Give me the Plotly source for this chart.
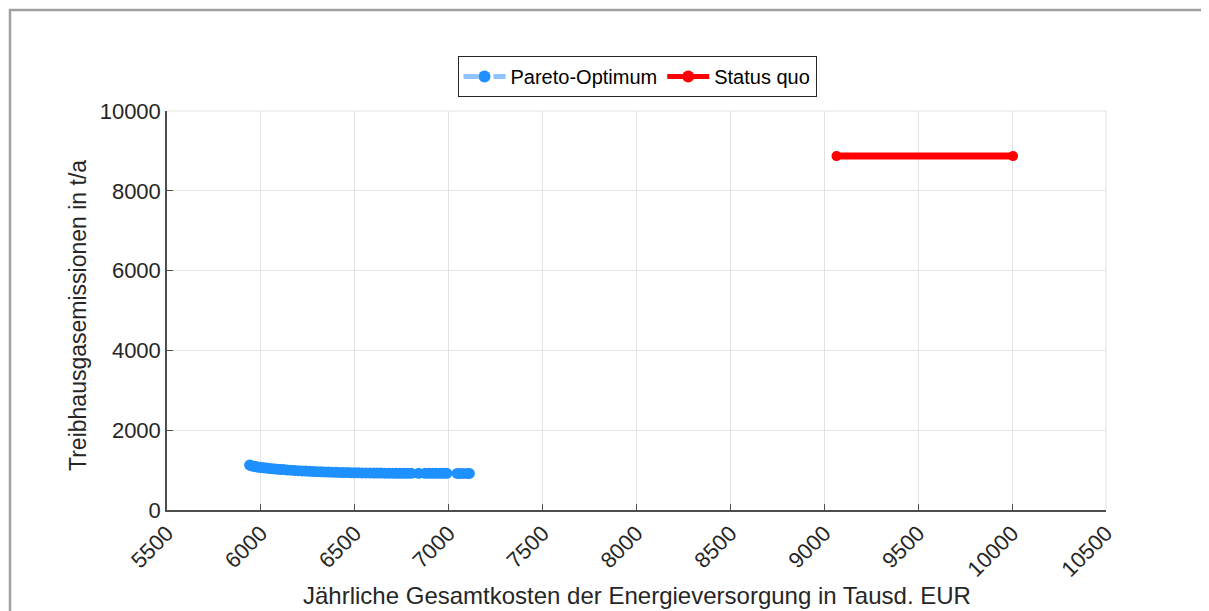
import plotly.graph_objects as go

# Pareto-Optimum (cost in Tausd. EUR, emissions in t/a)
pareto_cost = [5940, 5950, 5960, 5970, 5980, 5990, 6000,
               6015, 6030, 6045, 6060, 6075, 6090, 6105, 6120,
               6140, 6160, 6180, 6200, 6220, 6240, 6260, 6280, 6300, 6320,
               6340, 6360, 6380, 6400, 6420, 6440, 6460, 6480, 6500, 6520,
               6540, 6560, 6580, 6600, 6620, 6640, 6660, 6680, 6700, 6720,
               6740, 6760, 6780, 6800,
               6840,
               6875, 6895, 6915, 6935, 6955, 6975, 6990,
               7045, 7060, 7080, 7100, 7110]
pareto_emis = [1125, 1108, 1097, 1088, 1080, 1073, 1066,
               1058, 1050, 1043, 1036, 1030, 1024, 1018, 1012,
               1005, 998, 992, 986, 980, 975, 970, 965, 961, 957,
               953, 950, 947, 944, 941, 939, 937, 935, 933, 931,
               930, 929, 928, 927, 926, 925, 924, 923, 922, 921,
               921, 920, 920, 919,
               919,
               918, 918, 918, 918, 918, 918, 918,
               917, 917, 917, 917, 917]

# Status quo
status_cost = [9065, 10005]
status_emis = [8870, 8870]

x_ticks = [5500, 6000, 6500, 7000, 7500, 8000, 8500, 9000, 9500, 10000, 10500]
y_ticks = [0, 2000, 4000, 6000, 8000, 10000]

fig = go.Figure()
fig.add_trace(go.Scatter(
    x=pareto_cost, y=pareto_emis, name="Pareto-Optimum", mode="lines+markers",
    line=dict(color="#8fc3ff", width=1.2, dash="dash"),
    marker=dict(color="#1e90ff", size=11, line=dict(width=0)),
))
fig.add_trace(go.Scatter(
    x=status_cost, y=status_emis, name="Status quo", mode="lines+markers",
    line=dict(color="#ff0000", width=7),
    marker=dict(color="#ff0000", size=10, line=dict(width=0)),
))

# page body has an 8px offset; figure coordinates = page coordinates - 8
OFF = 8
L, T = 167 - OFF, 111 - OFF
Rpx, Bpx = 1106 - OFF, 510 - OFF
W, H = 1209, 611
pw, ph = Rpx - L, Bpx - T
px = lambda p: (p - OFF - L) / pw
py = lambda p: (Bpx - (p - OFF)) / ph

axis_common = dict(
    showline=True, linecolor="#4d4d4d", linewidth=1.5,
    ticks="inside", ticklen=6, tickcolor="#4d4d4d",
    showgrid=True, gridcolor="#e3e3e3", gridwidth=1,
    zeroline=False, mirror=False,
    tickfont=dict(family="Liberation Sans, Arial, sans-serif", size=22, color="#262626"),
)

fig.update_layout(
    width=W, height=H,
    margin=dict(l=L, r=W - Rpx, t=T, b=H - Bpx, autoexpand=False),
    paper_bgcolor="white", plot_bgcolor="white",
    font=dict(family="Liberation Sans, Arial, sans-serif", color="#262626"),
    xaxis=dict(range=[5500, 10500], tickvals=x_ticks, ticktext=[str(v) for v in x_ticks],
               tickangle=-45, automargin=False, **axis_common),
    yaxis=dict(range=[0, 10000], tickvals=y_ticks, ticktext=[str(v) for v in y_ticks],
               automargin=False, **axis_common),
    showlegend=True,
    legend=dict(orientation="h", x=px(637), xanchor="center", y=py(56), yanchor="top",
                bordercolor="#262626", borderwidth=1, bgcolor="white",
                font=dict(size=20, color="#000000"), itemwidth=42,
                tracegroupgap=0, itemsizing="constant"),
    shapes=[
        dict(type="rect", xref="paper", yref="paper", x0=px(10), x1=px(1300),
             y0=py(700), y1=py(10), line=dict(color="#a0a0a0", width=2.5),
             fillcolor="rgba(0,0,0,0)", layer="below"),
        dict(type="line", xref="paper", yref="paper", x0=0, x1=1, y0=1, y1=1,
             line=dict(color="#e3e3e3", width=1)),
        dict(type="line", xref="paper", yref="paper", x0=1, x1=1, y0=0, y1=1,
             line=dict(color="#e3e3e3", width=1)),
    ],
    annotations=[
        dict(text="Jährliche Gesamtkosten der Energieversorgung in Tausd. EUR",
             xref="paper", yref="paper", x=px(637), y=py(595), xanchor="center", yanchor="middle",
             showarrow=False, font=dict(size=24, color="#262626")),
        dict(text="Treibhausgasemissionen in t/a", textangle=-90,
             xref="paper", yref="paper", x=px(78), y=py(316), xanchor="center", yanchor="middle",
             showarrow=False, font=dict(size=23, color="#262626")),
    ],
)

fig.write_html("out.html")
